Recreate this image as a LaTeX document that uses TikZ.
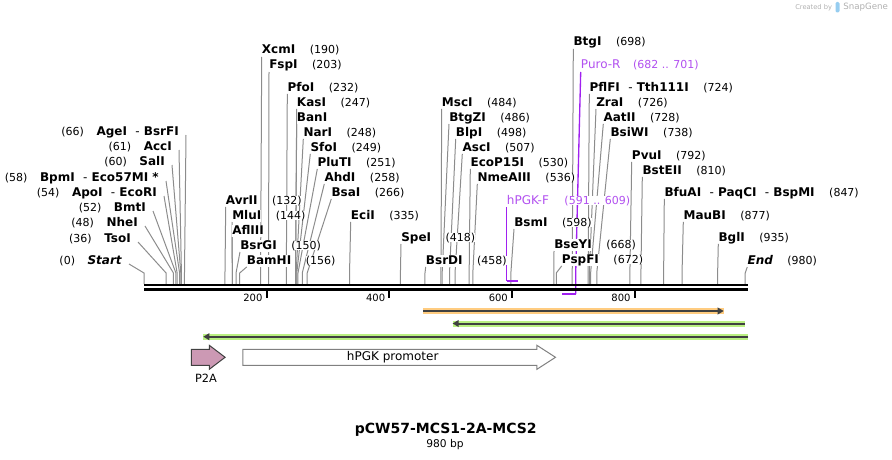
\documentclass[tikz,border=0pt]{standalone}
\usepackage{fontspec}
\setmainfont{DejaVu Sans}
\usetikzlibrary{positioning,calc,arrows.meta}
\pgfdeclarelayer{bg}
\pgfsetlayers{bg,main}
\definecolor{cutgray}{RGB}{140,140,140}
\definecolor{primerline}{RGB}{160,32,240}
\definecolor{primertext}{RGB}{178,80,240}
\definecolor{orangehl}{RGB}{255,204,128}
\definecolor{greenhl}{RGB}{186,240,130}
\definecolor{featdark}{RGB}{64,64,64}
\definecolor{p2afill}{RGB}{204,153,180}
\definecolor{snapgray}{RGB}{176,176,176}
\definecolor{snapblue}{RGB}{150,205,240}

\begin{document}
\begin{tikzpicture}[x=0.75pt,y=-0.75pt,
  cutname/.style={font=\fontsize{9}{10}\selectfont\bfseries,inner sep=0pt,fill=white,text height=7pt,text depth=2pt},
  cutnum/.style={font=\fontsize{8.25}{10}\selectfont,inner sep=0pt,fill=white},
  cutline/.style={draw=cutgray,line width=0.75pt},
  primerlbl/.style={font=\fontsize{9}{10}\selectfont,text=primertext,inner sep=0pt,fill=white,text height=7pt,text depth=2pt},
  primerpath/.style={draw=primerline,line width=1pt},
  primerbar/.style={draw=primerline,line width=1.8pt},
  seqline/.style={line width=2pt},
  ticknum/.style={font=\fontsize{7.5}{9}\selectfont,inner sep=0pt},
  hilite/.style={line width=4.5pt},
  featarrow/.style={draw=featdark,line width=1.5pt,-{Triangle[length=4.5pt,width=5pt]}},
  featlbl/.style={font=\fontsize{9}{10}\selectfont,inner sep=0pt}]
\useasboundingbox (0,0) rectangle (892,460);

% backbone
\coordinate (seqL) at (144,285);
\coordinate (seqR) at (748,285);
\draw[seqline] (seqL) -- (seqR);
\draw[seqline] ($(seqL)+(0,4.5)$) -- ($(seqR)+(0,4.5)$);

\foreach \t in {200,400,600,800}{
  \coordinate (t\t) at ({144+0.6135*\t},291);
  \draw[line width=1.5pt] (t\t) -- ++(0,7);
  \node[ticknum,anchor=east] (tn\t) at ($(t\t)+(-4,7)$) {\t};
}

% sites, labels to the left
\foreach \k/\bp/\rx/\by/\nm/\nb in {
  agei/66/179/135/{AgeI\ \ {\mdseries-}\ BsrFI}/(66),
  acci/61/172/150/AccI/(61),
  sali/60/165/165/SalI/(60),
  bpmi/58/159/181/{BpmI\ \ {\mdseries-}\ Eco57MI *}/(58),
  apoi/54/157/196/{ApoI\ \ {\mdseries-}\ EcoRI}/(54),
  bmti/52/146/211/BmtI/(52),
  nhei/48/138/226/NheI/(48),
  tsoi/36/131/242/TsoI/(36),
  start/0/122/264/{\itshape Start}/(0)}{
  \coordinate (s-\k) at ({144+0.6135*\bp},284);
  \node[cutname,anchor=base east] (\k) at (\rx,\by) {\nm};
  \node[cutnum,anchor=base east] (\k-n) at ($(\k.base west)+(-12,0)$) {\nb};
  \begin{pgfonlayer}{bg}
    \draw[cutline] ($(\k.base east)+(7,0)$) -- ($(s-\k)+(0,-11)$) -- (s-\k);
  \end{pgfonlayer}
}

% sites, labels to the right
\foreach \k/\bp/\lx/\by/\nm/\nb in {
  avrii/132/225.7/204/AvrII/(132),
  mlui/144/232/219/MluI/(144),
  afliii/144/232/234/AflIII/{},
  bsrgi/150/240/249/BsrGI/(150),
  bamhi/156/246.7/264/BamHI/(156),
  xcmi/190/261.7/54/XcmI/(190),
  fspi/203/269/69/FspI/(203),
  pfoi/232/287.3/91/PfoI/(232),
  kasi/247/296.7/106/KasI/(247),
  bani/247/296.7/121/BanI/{},
  nari/248/303.3/136/NarI/(248),
  sfoi/249/310.3/151/SfoI/(249),
  pluti/251/317.3/166/PluTI/(251),
  ahdi/258/324.3/181/AhdI/(258),
  bsai/266/331.3/196/BsaI/(266),
  ecii/335/350.7/219/EciI/(335),
  spei/418/401/241/SpeI/(418),
  bsrdi/458/425.7/264/BsrDI/(458),
  msci/484/441.7/106/MscI/(484),
  btgzi/486/449/121/BtgZI/(486),
  blpi/498/455.7/136/BlpI/(498),
  asci/507/462.3/151/AscI/(507),
  ecop/530/470.3/166/EcoP15I/(530),
  nmea/536/477.3/181/NmeAIII/(536),
  bsmi/598/514/226/BsmI/(598),
  bseyi/668/554/248/BseYI/(668),
  pspfi/672/561.7/263/PspFI/(672),
  btgi/698/573.3/46/BtgI/(698),
  pflfi/724/589.3/91/{PflFI\ \ {\mdseries-}\ Tth111I}/(724),
  zrai/726/596/106/ZraI/(726),
  aatii/728/603.3/121/AatII/(728),
  bsiwi/738/610.3/136/BsiWI/(738),
  pvui/792/631.7/159/PvuI/(792),
  bsteii/810/642.3/174/BstEII/(810),
  bfuai/847/664.3/196/{BfuAI\ \ {\mdseries-}\ PaqCI\ \ {\mdseries-}\ BspMI}/(847),
  maubi/877/683.3/219/MauBI/(877),
  bgli/935/718.3/241/BglI/(935),
  seqend/980/747.3/264/{\itshape End}/(980)}{
  \coordinate (s-\k) at ({144+0.6135*\bp},284);
  \node[cutname,anchor=base west] (\k) at (\lx,\by) {\nm};
  \node[cutnum,anchor=base west] (\k-n) at ($(\k.base east)+(14,0)$) {\nb};
  \begin{pgfonlayer}{bg}
    \draw[cutline] (\k.south west) -- ($(s-\k)+(0,-11)$) -- (s-\k);
  \end{pgfonlayer}
}

% primers
\node[primerlbl,anchor=base west] (hpgkf) at (506.7,204) {hPGK-F};
\node[cutnum,text=primertext,anchor=base west] (hpgkf-n) at ($(hpgkf.base east)+(15,0)$) {(591 .. 609)};
\coordinate (p-hpgkf) at ({144+0.6135*609},281);
\begin{pgfonlayer}{bg}
  \draw[primerpath] (hpgkf.south west) -- (hpgkf.south west |- p-hpgkf);
  \draw[primerbar] (hpgkf.south west |- p-hpgkf) -- (p-hpgkf);
\end{pgfonlayer}

\node[primerlbl,anchor=base west] (puror) at (580.7,69) {Puro-R};
\node[cutnum,text=primertext,anchor=base west] (puror-n) at ($(puror.base east)+(12,0)$) {(682 .. 701)};
\coordinate (p-puror) at ({144+0.6135*682},294);
\coordinate (q-puror) at (575.7,294);
\begin{pgfonlayer}{bg}
  \draw[primerpath] (puror.south west) -- ($(q-puror)+(0,-21)$) -- (q-puror);
  \draw[primerbar] (q-puror) -- (p-puror);
\end{pgfonlayer}

% features
\coordinate (orgA) at (423,311);
\coordinate (orgB) at (723.7,311);
\draw[hilite,orangehl] (orgA) -- (orgB);
\draw[featarrow] (orgA) -- (orgB);

\coordinate (grnA) at (452.6,323.5);
\coordinate (grnB) at (744.7,323.5);
\draw[hilite,greenhl] (grnA) -- (grnB);
\draw[featarrow] (grnB) -- (grnA);

\coordinate (grnC) at (203.3,336.7);
\coordinate (grnD) at (748.2,336.7);
\draw[hilite,greenhl] (grnC) -- (grnD);
\draw[featarrow] (grnD) -- (grnC);

\draw[fill=p2afill,draw=featdark,line width=0.75pt] (191.4,349.3) -- (209.3,349.3) -- (209.3,345.3) -- (225.1,357.3)
  -- (209.3,369.3) -- (209.3,365.3) -- (191.4,365.3) -- cycle;
\node[featlbl,font=\fontsize{8.5}{10}\selectfont] (p2a) at (206,378.3) {P2A};

\draw[fill=white,draw=gray,line width=0.75pt] (242.9,349.3) -- (536.9,349.3) -- (536.9,345.3) -- (555.5,357.3)
  -- (536.9,369.3) -- (536.9,365.3) -- (242.9,365.3) -- cycle;
\node[featlbl] (hpgk) at (392.7,357.3) {hPGK promoter};

% title
\node[font=\fontsize{10.5}{12}\selectfont\bfseries,inner sep=0pt] (title) at (445.8,429.3) {pCW57-MCS1-2A-MCS2};
\node[font=\fontsize{8}{9}\selectfont,inner sep=0pt] (bp) at (445,444.3) {980 bp};

\node[font=\fontsize{5}{6}\selectfont,text=snapgray,inner sep=0pt,anchor=west] (created) at (795,7.3) {Created by};
\fill[snapblue,rounded corners=1pt] (835.5,2) rectangle (839.5,12.5);
\node[font=\fontsize{6.5}{8}\selectfont,text=snapgray,inner sep=0pt,anchor=west] (snapgene) at (843,7.3) {SnapGene};
\end{tikzpicture}
\end{document}
